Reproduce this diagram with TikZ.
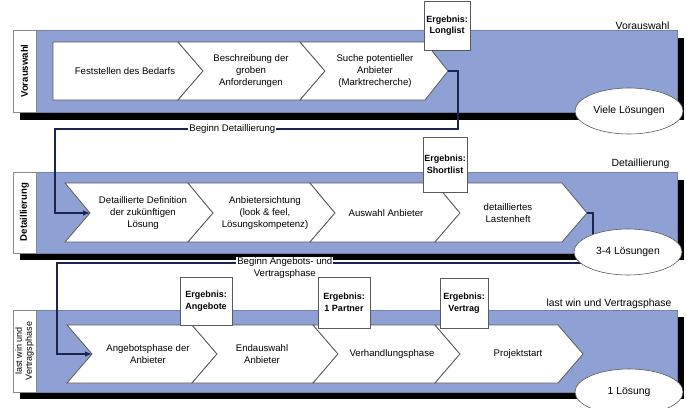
\documentclass[tikz,border=0pt]{standalone}
\usepackage{fontspec}
\setmainfont{Liberation Sans}
\usetikzlibrary{shapes.geometric,arrows.meta}
\definecolor{bandblau}{HTML}{8FA1D4}
\definecolor{linieblau}{HTML}{1B2550}
\definecolor{randgrau}{HTML}{5A5A5A}

\begin{document}
\begin{tikzpicture}[x=1pt,y=-1pt,font=\fontsize{9.6}{11.6}\selectfont,
    band/.style={fill=bandblau,draw=bandblau!80!black,line width=0.4pt},
    schatten/.style={fill=black},
    kasten/.style={fill=white,draw=randgrau!70,line width=0.6pt},
    chev/.style={fill=white,draw=randgrau,line width=0.8pt},
    txt/.style={align=center,inner sep=0pt},
    seite/.style={rotate=90,align=center,inner sep=0pt,font=\fontsize{9}{10}\selectfont},
    ergebnis/.style={fill=white,draw=randgrau,line width=0.6pt,align=center,inner sep=1pt,
      font=\fontsize{9}{11.6}\selectfont\bfseries},
    loes/.style={ellipse,fill=white,draw=randgrau,line width=0.6pt,minimum width=108pt,
      minimum height=46pt,inner sep=0pt,font=\fontsize{10.4}{12}\selectfont},
    verb/.style={draw=linieblau,line width=1.2pt},
    lab/.style={fill=white,inner sep=1pt,align=center}]
    \useasboundingbox (0,0) rectangle (687,407);
    % Vorauswahl
    \fill[schatten] (20,38) rectangle (684,120); %schatten
    \draw[band] (36,30) rectangle (677,112); %band
    \draw[kasten] (13,30) rectangle (36,112);
    \node[seite,font=\fontsize{9.6}{11}\selectfont\bfseries] (s1) at (24.5,71) {Vorauswahl};
    \node[anchor=base east,font=\fontsize{10.4}{12}\selectfont] (r1) at (673,29) {Vorauswahl};
    \draw[chev] (53,42) -- (178,42) -- (203,71) -- (178,100) -- (53,100) -- cycle;
    \draw[chev] (178,42) -- (300,42) -- (325,71) -- (300,100) -- (178,100) -- (203,71) -- cycle;
    \draw[chev] (300,42) -- (425,42) -- (448,71) coordinate (t13) -- (425,100) -- (300,100) -- (325,71) -- cycle;
    \node[txt] (c11) at (125,71) {Feststellen des Bedarfs};
    \node[txt] (c12) at (251,71) {Beschreibung der\\groben\\Anforderungen};
    \node[txt] (c13) at (375,71) {Suche potentieller\\Anbieter\\(Marktrecherche)};
    % Detaillierung
    \fill[schatten] (20,180) rectangle (684,260); %schatten
    \draw[band] (36,172) rectangle (677,253); %band
    \draw[kasten] (13,172) rectangle (36,253);
    \node[seite,font=\fontsize{9.6}{11}\selectfont\bfseries] (s2) at (24.5,212) {Detaillierung};
    \node[anchor=base east,font=\fontsize{10.4}{12}\selectfont] (r2) at (673,166) {Detaillierung};
    \draw[chev] (65,183) -- (188,183) -- (213,213) -- (188,242) -- (65,242) -- (90,213) coordinate (n21) -- cycle;
    \draw[chev] (188,183) -- (310,183) -- (335,213) -- (310,242) -- (188,242) -- (213,213) -- cycle;
    \draw[chev] (310,183) -- (435,183) -- (460,213) -- (435,242) -- (310,242) -- (335,213) -- cycle;
    \draw[chev] (435,183) -- (562,183) -- (587,213) coordinate (t24) -- (562,242) -- (435,242) -- (460,213) -- cycle;
    \node[txt] (c21) at (143,213) {Detaillierte Definition\\der zukünftigen\\Lösung};
    \node[txt] (c22) at (265,213) {Anbietersichtung\\(look \& feel,\\Lösungskompetenz)};
    \node[txt] (c23) at (386,213) {Auswahl Anbieter};
    \node[txt] (c24) at (508,213) {detailliertes\\Lastenheft};
    % last win und Vertragsphase
    \fill[schatten] (20,317) rectangle (684,399); %schatten
    \draw[band] (36,310) rectangle (677,392); %band
    \draw[kasten] (13,310) rectangle (36,392);
    \node[seite] (s3) at (24.5,351) {last win und\\Vertragsphase};
    \node[anchor=base east,font=\fontsize{10.4}{12}\selectfont] (r3) at (675,306) {last win und Vertragsphase};
    \draw[chev] (67,325) -- (192,325) -- (217,354) -- (192,383) -- (67,383) -- (92,354) coordinate (n31) -- cycle;
    \draw[chev] (192,325) -- (313,325) -- (338,354) -- (313,383) -- (192,383) -- (217,354) -- cycle;
    \draw[chev] (313,325) -- (435,325) -- (460,354) -- (435,383) -- (313,383) -- (338,354) -- cycle;
    \draw[chev] (435,325) -- (558,325) -- (583,354) -- (558,383) -- (435,383) -- (460,354) -- cycle;
    \node[txt] (c31) at (148,354) {Angebotsphase der\\Anbieter};
    \node[txt] (c32) at (262,354) {Endauswahl\\Anbieter};
    \node[txt] (c33) at (392,354) {Verhandlungsphase};
    \node[txt] (c34) at (518,354) {Projektstart};
    % Verbindungen
    \coordinate (k1) at (458,129);
    \coordinate (k2) at (55,129);
    \draw[verb,-{Latex[length=7pt,width=5.5pt]}] (t13) -| (k1) -- node[lab,pos=0.56] (b1) {Beginn Detaillierung} (k2) |- (n21);
    \coordinate (k3) at (593,263);
    \coordinate (k4) at (57,263);
    \draw[verb,-{Latex[length=7pt,width=5.5pt]}] (t24) -| (k3) -- node[lab,pos=0.575,yshift=-5pt] (b2) {Beginn Angebots- und\\Vertragsphase} (k4) |- (n31);
    % Ergebnisse
    \node[ergebnis,minimum width=46pt,minimum height=49pt] (e1) at (447,25.5) {Ergebnis:\\Longlist};
    \node[ergebnis,minimum width=44pt,minimum height=55pt] (e2) at (445,164.5) {Ergebnis:\\Shortlist};
    \node[ergebnis,minimum width=52pt,minimum height=48pt] (e3) at (206,301) {Ergebnis:\\Angebote};
    \node[ergebnis,minimum width=52pt,minimum height=51pt] (e4) at (344,302.5) {Ergebnis:\\1 Partner};
    \node[ergebnis,minimum width=48pt,minimum height=50pt] (e5) at (464,303) {Ergebnis:\\Vertrag};
    % Loesungen
    \node[loes] (l1) at (629,111) {Viele Lösungen};
    \node[loes] (l2) at (628,252) {3-4 Lösungen};
    \node[loes] (l3) at (629,392) {1 Lösung};
  \end{tikzpicture}
\end{document}
